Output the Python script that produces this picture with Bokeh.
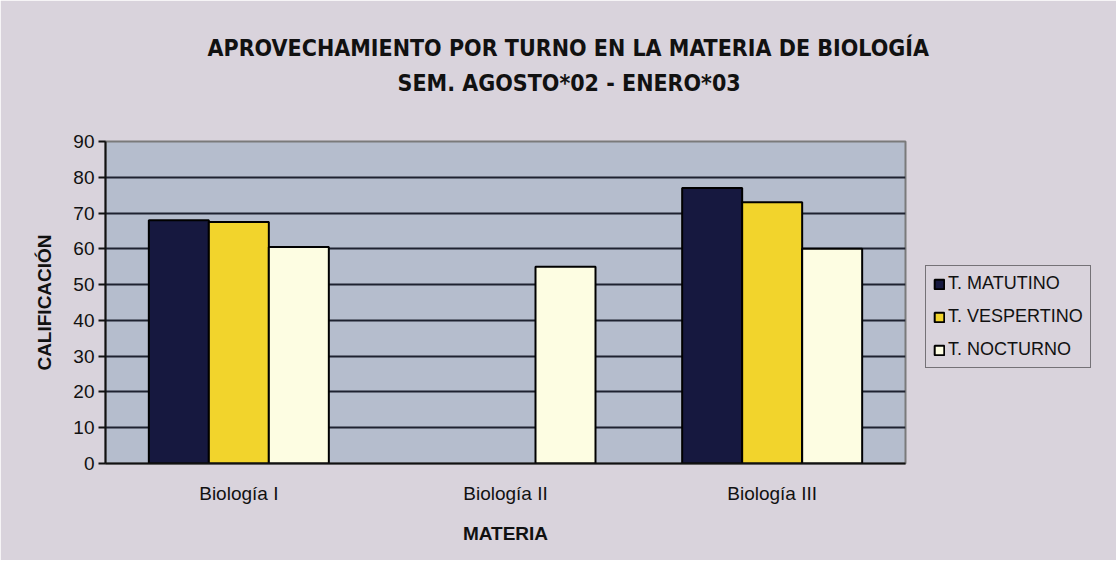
from bokeh.plotting import figure
from bokeh.models import ColumnDataSource, FactorRange, Range1d, Legend, LegendItem, FixedTicker, Title
from bokeh.transform import dodge
from bokeh.embed import file_html
from bokeh.resources import INLINE

categories = ["Biología I", "Biología II", "Biología III"]
matutino = [68, float("nan"), 77]
vespertino = [67.5, float("nan"), 73]
nocturno = [60.5, 55, 60]
series_names = ["T. MATUTINO", "T. VESPERTINO", "T. NOCTURNO"]
y_ticks = [0, 10, 20, 30, 40, 50, 60, 70, 80, 90]

title_line1 = "APROVECHAMIENTO POR TURNO EN LA MATERIA DE BIOLOGÍA"
title_line2 = "SEM. AGOSTO*02 - ENERO*03"

colors = ["#16183f", "#f2d42c", "#fdfde2"]
bg_outer = "#d9d3dc"

src = ColumnDataSource(dict(cat=categories, mat=matutino, ves=vespertino, noc=nocturno))

p = figure(x_range=FactorRange(*categories), y_range=Range1d(0, 90),
           frame_width=800, frame_height=322, output_backend="svg", toolbar_location=None,
           min_border_left=105, min_border_right=0, min_border_top=141, min_border_bottom=97)
p.background_fill_color = "#b5bdcd"
p.border_fill_color = bg_outer
p.outline_line_color = "#7a7a7a"
p.outline_line_width = 2

font = "Liberation Sans"
tfont = "DejaVu Sans Condensed"

p.xgrid.grid_line_color = None
p.ygrid.ticker = FixedTicker(ticks=y_ticks)
p.ygrid.grid_line_color = "#1e2230"
p.ygrid.grid_line_width = 2

p.yaxis.ticker = FixedTicker(ticks=y_ticks)
p.yaxis.axis_line_color = "#111111"
p.yaxis.axis_line_width = 2
p.yaxis.major_tick_line_color = "#111111"
p.yaxis.major_tick_line_width = 2
p.yaxis.major_tick_out = 7
p.yaxis.major_tick_in = 0
p.yaxis.minor_tick_line_color = None
p.yaxis.major_label_text_font = font
p.yaxis.major_label_text_font_size = "19px"
p.yaxis.major_label_text_color = "#111111"
p.yaxis.major_label_standoff = 4
p.yaxis.axis_label = "CALIFICACIÓN"
p.yaxis.axis_label_text_font = font
p.yaxis.axis_label_text_font_style = "bold"
p.yaxis.axis_label_text_font_size = "19px"
p.yaxis.axis_label_text_color = "#111111"
p.yaxis.axis_label_standoff = 15

p.xaxis.axis_line_color = "#111111"
p.xaxis.axis_line_width = 2
p.xaxis.major_tick_line_color = None
p.xaxis.minor_tick_line_color = None
p.xaxis.major_label_text_font = font
p.xaxis.major_label_text_font_size = "19px"
p.xaxis.major_label_text_color = "#111111"
p.xaxis.major_label_standoff = 13
p.xaxis.axis_label = "MATERIA"
p.xaxis.axis_label_text_font = font
p.xaxis.axis_label_text_font_style = "bold"
p.xaxis.axis_label_text_font_size = "19px"
p.xaxis.axis_label_text_color = "#111111"
p.xaxis.axis_label_standoff = 16

bw = 0.225
renderers = []
for col, off, c in zip(["mat", "ves", "noc"], [-bw, 0, bw], colors):
    r = p.vbar(x=dodge("cat", off, range=p.x_range), top=col, width=bw, source=src,
               fill_color=c, line_color="#000000", line_width=2)
    renderers.append(r)

legend = Legend(items=[LegendItem(label=n, renderers=[r]) for n, r in zip(series_names, renderers)],
                location=(20, 95))
legend.label_text_font = font
legend.label_text_font_size = "18px"
legend.label_text_color = "#111111"
legend.glyph_width = 12
legend.glyph_height = 12
legend.label_height = 20
legend.spacing = 12
legend.label_standoff = 3
legend.padding = 7
legend.margin = 0
legend.border_line_color = "#111111"
legend.border_line_width = 1.5
legend.background_fill_color = bg_outer
legend.background_fill_alpha = 1
p.add_layout(legend, "right")

# spacer between frame and titles
p.add_layout(Title(text=" ", text_font_size="10px", standoff=29, text_color=bg_outer), "above")
t2 = Title(text=title_line2, align="left", offset=292, standoff=7,
           text_font=tfont, text_font_style="bold", text_font_size="23px", text_color="#111111")
t1 = Title(text=title_line1, align="left", offset=102, standoff=7,
           text_font=tfont, text_font_style="bold", text_font_size="23px", text_color="#111111")
p.add_layout(t2, "above")
p.add_layout(t1, "above")

open("out.html", "w").write(file_html(p, INLINE))
